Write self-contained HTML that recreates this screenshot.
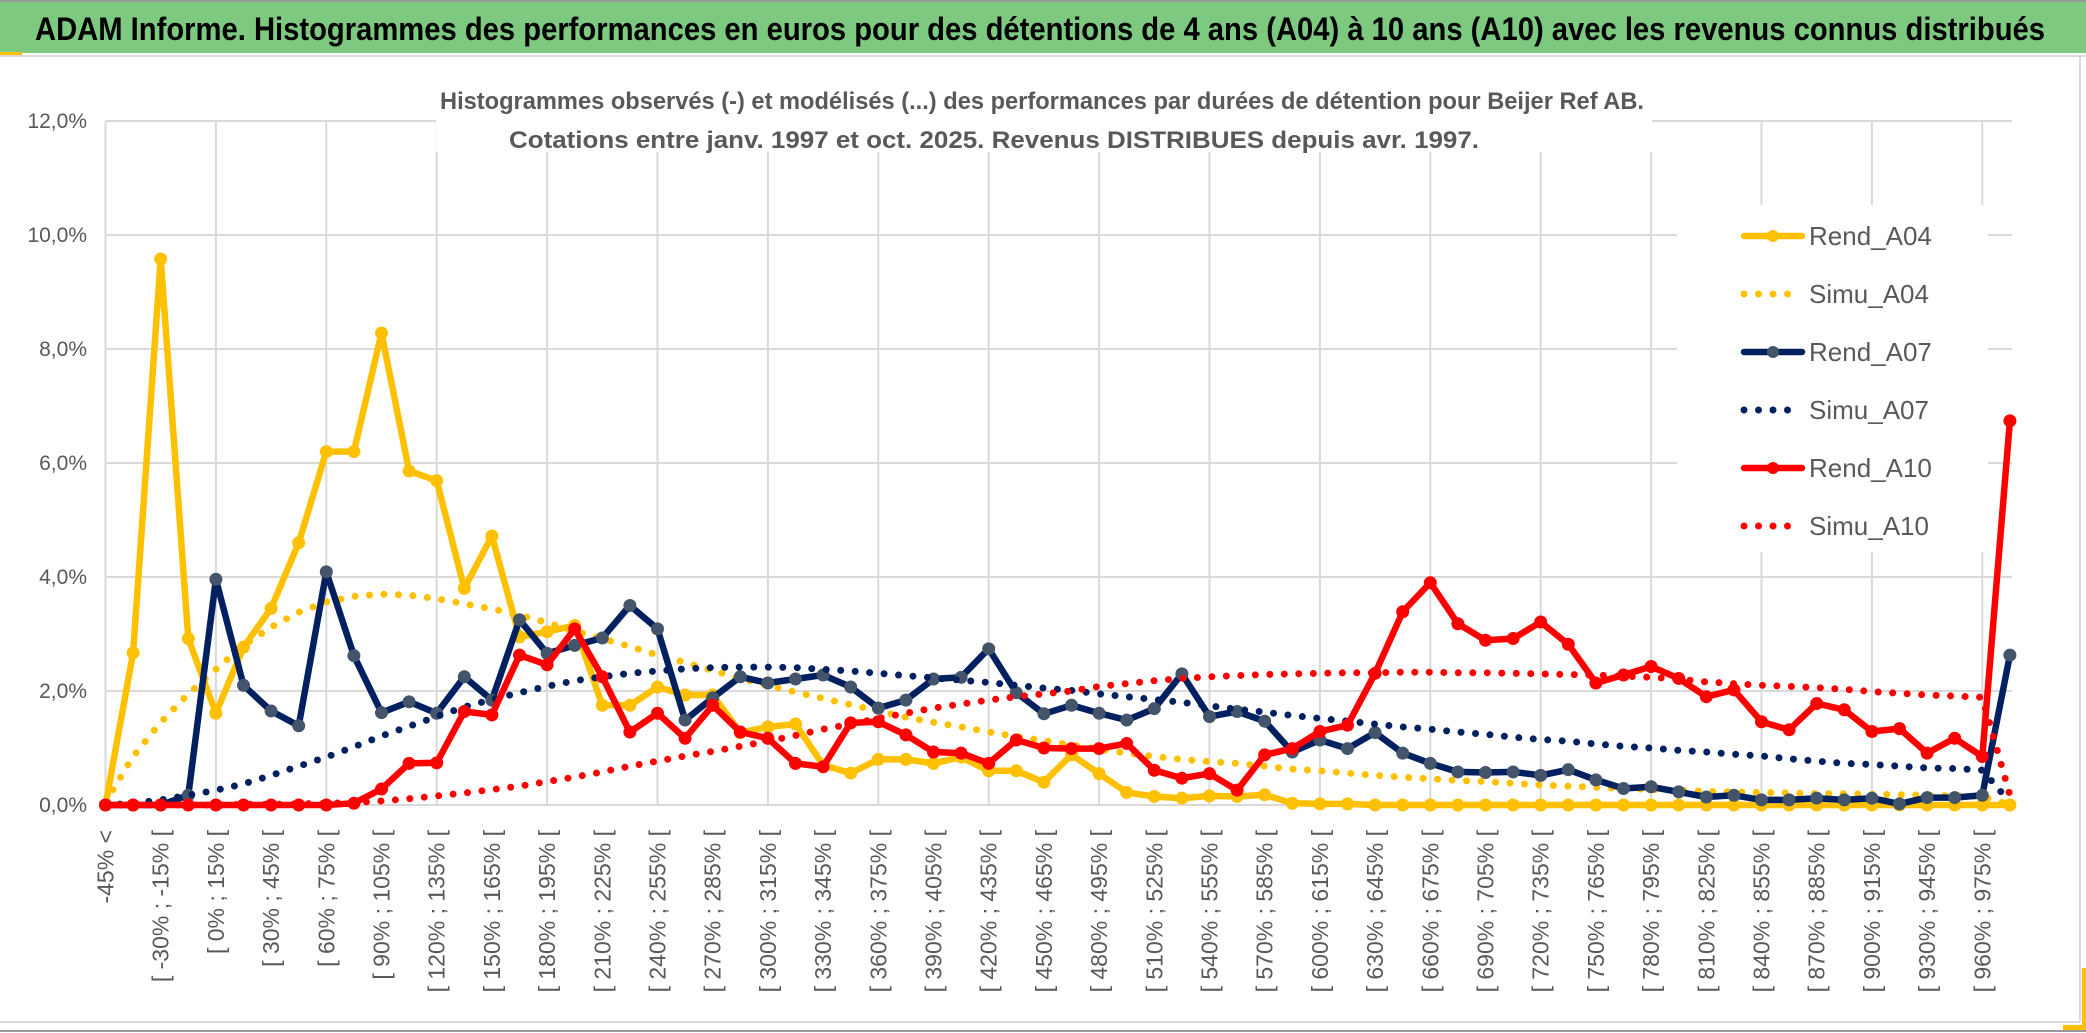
<!DOCTYPE html>
<html><head><meta charset="utf-8">
<style>
html,body{margin:0;padding:0;background:#fff;}
svg{display:block;}
text{font-family:"Liberation Sans",sans-serif;}
</style></head>
<body>
<svg id="chart" width="2086" height="1033" viewBox="0 0 2086 1033" xmlns="http://www.w3.org/2000/svg">
  <rect x="0" y="0" width="2086" height="1033" fill="#fff"/>
  <rect x="0" y="2" width="2086" height="51" fill="#7DC97F"/>
  <line x1="0" y1="1" x2="2086" y2="1" stroke="#999" stroke-width="2"/>
  <line x1="0" y1="56" x2="2086" y2="56" stroke="#d9d9d9" stroke-width="2"/>
  <rect x="0" y="52" width="22" height="3" fill="#FFC000"/>
  <text x="35" y="40" font-size="32" font-weight="bold" fill="#000" textLength="2010" lengthAdjust="spacingAndGlyphs" style="font-family:'Liberation Sans Narrow','Liberation Sans',sans-serif">ADAM Informe. Histogrammes des performances en euros pour des détentions de 4 ans (A04) à 10 ans (A10) avec les revenus connus distribués</text>
  <line x1="2080" y1="56" x2="2080" y2="1022" stroke="#d9d9d9" stroke-width="2"/>
  <line x1="0" y1="1022" x2="2080" y2="1022" stroke="#d9d9d9" stroke-width="2"/>
  <line x1="0" y1="1031" x2="2086" y2="1031" stroke="#999" stroke-width="2"/>
  <rect x="2082" y="968" width="4" height="62" fill="#FFC000"/>
  <rect x="2063" y="1025" width="22" height="5" fill="#FFC000"/>
  <g id="grid"></g>
  <g id="yaxis"></g>
  <g id="xaxis"></g>
  <rect x="436" y="84" width="1216" height="68" fill="#fff"/>
  <text x="1042" y="109" text-anchor="middle" font-size="24" font-weight="bold" fill="#595959" textLength="1204" lengthAdjust="spacingAndGlyphs" style="font-family:'Liberation Sans Narrow','Liberation Sans',sans-serif">Histogrammes observés (-) et modélisés (...) des performances par durées de détention pour Beijer Ref AB.</text>
  <text x="994" y="148" text-anchor="middle" font-size="24" font-weight="bold" fill="#595959" textLength="970" lengthAdjust="spacingAndGlyphs" style="font-family:'Liberation Sans Narrow','Liberation Sans',sans-serif">Cotations entre janv. 1997 et oct. 2025. Revenus DISTRIBUES depuis avr. 1997.</text>
  <g id="series"></g>
  <rect x="1677" y="205" width="311" height="347" fill="#fff"/>
  <g id="legend"></g>
</svg>
<script>
const categories = [];
const rendA04 = [0,2.67,9.58,2.92,1.61,2.77,3.45,4.6,6.2,6.2,8.28,5.86,5.69,3.8,4.72,2.95,3.04,3.15,1.75,1.75,2.07,1.93,1.93,1.27,1.37,1.42,0.7,0.56,0.8,0.8,0.73,0.84,0.6,0.6,0.4,0.88,0.55,0.22,0.15,0.12,0.16,0.15,0.18,0.03,0.02,0.02,0,0,0,0,0,0,0,0,0,0,0,0,0,0,0,0,0,0,0,0,0,0,0,0];
const simuA04 = [0.05,0.85,1.45,1.95,2.38,2.8,3.12,3.38,3.56,3.66,3.7,3.68,3.62,3.53,3.44,3.33,3.2,3.05,2.92,2.78,2.63,2.5,2.36,2.22,2.1,1.98,1.87,1.76,1.65,1.54,1.45,1.37,1.28,1.2,1.13,1.05,0.98,0.91,0.85,0.8,0.76,0.73,0.68,0.63,0.6,0.56,0.52,0.49,0.46,0.43,0.41,0.38,0.35,0.33,0.31,0.29,0.27,0.26,0.24,0.23,0.22,0.21,0.2,0.2,0.19,0.18,0.17,0.16,0.15,0.0];
const rendA07 = [0,0,0,0.17,3.96,2.1,1.65,1.39,4.09,2.62,1.62,1.81,1.61,2.25,1.84,3.25,2.66,2.8,2.93,3.5,3.09,1.49,1.88,2.25,2.14,2.21,2.28,2.07,1.7,1.84,2.21,2.24,2.74,1.97,1.6,1.75,1.61,1.49,1.69,2.3,1.55,1.64,1.47,0.93,1.14,0.99,1.27,0.91,0.73,0.58,0.57,0.58,0.52,0.62,0.44,0.29,0.32,0.23,0.14,0.17,0.09,0.09,0.12,0.09,0.12,0.02,0.13,0.13,0.17,2.63];
const simuA07 = [0,0.03,0.09,0.17,0.26,0.37,0.52,0.68,0.84,1.02,1.21,1.38,1.55,1.72,1.85,1.97,2.08,2.18,2.25,2.31,2.35,2.39,2.41,2.42,2.42,2.41,2.38,2.35,2.31,2.27,2.23,2.19,2.15,2.1,2.05,2.01,1.95,1.9,1.85,1.8,1.74,1.68,1.63,1.57,1.52,1.47,1.42,1.37,1.33,1.28,1.24,1.19,1.15,1.12,1.07,1.03,1.0,0.96,0.93,0.89,0.86,0.81,0.77,0.73,0.71,0.68,0.65,0.64,0.61,0.05];
const rendA10 = [0,0,0,0,0,0,0,0,0,0.03,0.28,0.73,0.74,1.64,1.58,2.63,2.46,3.09,2.25,1.28,1.61,1.17,1.75,1.28,1.17,0.73,0.67,1.44,1.46,1.23,0.93,0.91,0.73,1.14,1.0,0.99,0.99,1.08,0.61,0.47,0.55,0.26,0.88,0.99,1.29,1.4,2.31,3.39,3.9,3.18,2.89,2.92,3.21,2.82,2.14,2.28,2.43,2.22,1.9,2.02,1.46,1.32,1.78,1.67,1.29,1.34,0.91,1.17,0.85,6.74];
const simuA10 = [0,0,0,0,0,0.01,0.01,0.02,0.03,0.04,0.07,0.11,0.16,0.21,0.27,0.33,0.41,0.49,0.58,0.68,0.77,0.86,0.94,1.03,1.12,1.22,1.33,1.42,1.52,1.61,1.7,1.77,1.84,1.9,1.95,2.0,2.08,2.13,2.18,2.22,2.25,2.27,2.29,2.3,2.31,2.32,2.32,2.33,2.33,2.32,2.32,2.31,2.3,2.29,2.28,2.26,2.24,2.21,2.16,2.13,2.1,2.08,2.06,2.03,1.99,1.96,1.93,1.91,1.89,0.17];
const yTicks = [0,2,4,6,8,10,12];
const yTickLabels = ["0,0%","2,0%","4,0%","6,0%","8,0%","10,0%","12,0%"];

categories.push("-45% <");
for (let i = 1; i < 70; i++) { const a = -45 + 15*(i-1); categories.push("[ " + a + "% ; " + (a+15) + "% ["); }

const NS = "http://www.w3.org/2000/svg";
const X0 = 105.5, DX = 27.6, Y0 = 805, PY = 57;
const xPos = i => X0 + DX * i;
const yPos = v => Y0 - PY * v;
function mk(tag, attrs, parent) { const e = document.createElementNS(NS, tag); for (const k in attrs) e.setAttribute(k, attrs[k]); parent.appendChild(e); return e; }

const grid = document.getElementById('grid');
yTicks.forEach(t => {
  const l = mk('line', {x1: 106, x2: 2012, y1: yPos(t), y2: yPos(t), stroke: '#d9d9d9', 'stroke-width': 2}, grid);
  
  
});
for (let i = 0; i <= 69; i += 4) {
  const l = mk('line', {x1: xPos(i), x2: xPos(i), y1: yPos(12), y2: Y0, stroke: '#d9d9d9', 'stroke-width': 2}, grid);
  
  
}
const yaxis = document.getElementById('yaxis');
yTicks.forEach((t, k) => {
  const tx = mk('text', {x: 87, y: yPos(t) + 7, 'text-anchor': 'end', 'font-size': 21, fill: '#595959'}, yaxis);
  tx.textContent = yTickLabels[k];
  
  
});
const xaxis = document.getElementById('xaxis');
categories.forEach((c, i) => {
  if (i % 2) return;
  const x = xPos(i) + 8;
  const tx = mk('text', {x: x, y: 830, 'text-anchor': 'end', 'font-size': 23, fill: '#595959', transform: 'rotate(-90 ' + x + ' 830)'}, xaxis);
  tx.textContent = c;
  
  
});

const series = document.getElementById('series');
function drawSeries(vals, color, dotted, marker, name) {
  const g = mk('g', {}, series);
  
  
  const pts = vals.map((v, i) => xPos(i).toFixed(1) + ',' + yPos(v).toFixed(1)).join(' ');
  const attrs = {points: pts, fill: 'none', stroke: color, 'stroke-width': dotted ? 7 : 6.5, 'stroke-linejoin': 'round', 'stroke-linecap': 'round'};
  if (dotted) attrs['stroke-dasharray'] = '0 14.5';
  const pl = mk('polyline', attrs, g);
  
  
  if (marker) vals.forEach((v, i) => {
    const c = mk('circle', {cx: xPos(i), cy: yPos(v), r: 6, fill: marker, stroke: marker}, g);
    
    
  });
}
drawSeries(rendA04, '#FFC000', false, '#FFC000', 'rend-a04');
drawSeries(simuA04, '#FFC000', true, null, 'simu-a04');
drawSeries(rendA07, '#002060', false, '#44546A', 'rend-a07');
drawSeries(simuA07, '#002060', true, null, 'simu-a07');
drawSeries(rendA10, '#FF0000', false, '#FF0000', 'rend-a10');
drawSeries(simuA10, '#FF0000', true, null, 'simu-a10');

const legendItems = [["Rend_A04","#FFC000",false,"#FFC000"],["Simu_A04","#FFC000",true,null],["Rend_A07","#002060",false,"#44546A"],["Simu_A07","#002060",true,null],["Rend_A10","#FF0000",false,"#FF0000"],["Simu_A10","#FF0000",true,null]];
const legend = document.getElementById('legend');
legendItems.forEach((it, k) => {
  const y = 236 + 58 * k;
  const g = mk('g', {}, legend);
  
  
  const a = {x1: 1744, x2: 1802, y1: y, y2: y, stroke: it[1], 'stroke-width': it[2] ? 7 : 6.5, 'stroke-linecap': 'round'};
  if (it[2]) a['stroke-dasharray'] = '0 14.5';
  mk('line', a, g);
  if (it[3]) mk('circle', {cx: 1773, cy: y, r: 6, fill: it[3]}, g);
  const t = mk('text', {x: 1809, y: y + 9, 'font-size': 26, fill: '#595959'}, g);
  t.textContent = it[0];
});
</script>
</body></html>
